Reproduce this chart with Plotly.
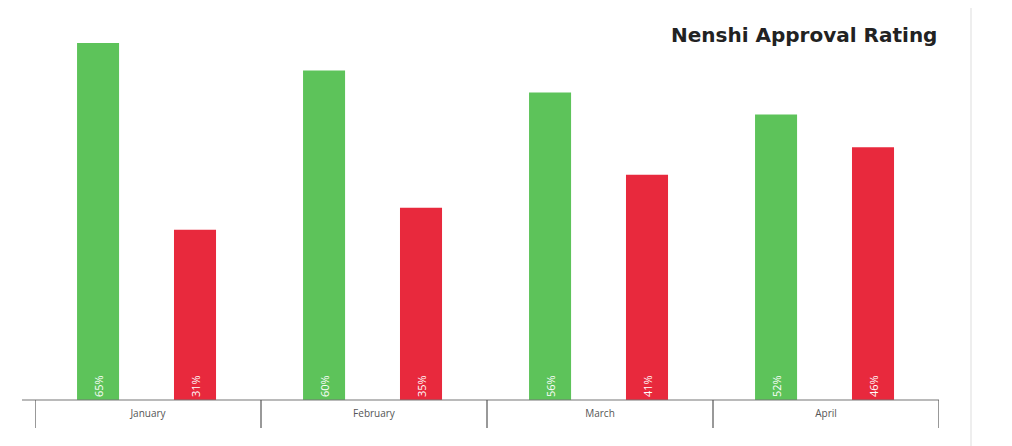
import plotly.graph_objects as go

months = ["January", "February", "March", "April"]
approve = [65, 60, 56, 52]
disapprove = [31, 35, 41, 46]

green = "#5dc35a"
red = "#e8293d"

fig = go.Figure()
for vals, col, off in [(approve, green, -0.314), (disapprove, red, 0.115)]:
    fig.add_trace(go.Bar(
        x=months, y=vals, marker=dict(color=col, line=dict(width=0)),
        width=0.186, offset=off,
        text=[f"{v}%" for v in vals], textposition="inside",
        insidetextanchor="start", textangle=-90,
        textfont=dict(color="white", size=11, family="Open Sans"),
        hoverinfo="skip",
    ))

box_h = 28 / 357
shapes = [dict(type="line", xref="paper", yref="paper", x0=-13 / 904, x1=1.0,
               y0=0, y1=0, line=dict(color="#777", width=1.2))]
for i in range(len(months) + 1):
    shapes.append(dict(type="line", xref="x", yref="paper", x0=i - 0.5, x1=i - 0.5,
                       y0=0, y1=-box_h, line=dict(color="#555", width=1.2)))
# light vertical stripe on the right of the page
shapes.append(dict(type="line", xref="paper", yref="paper", x0=(963 - 27) / 904,
                   x1=(963 - 27) / 904, y0=-1, y1=2, line=dict(color="#eeeeee", width=2)))

fig.update_layout(
    width=1012, height=446, barmode="overlay", showlegend=False,
    margin=dict(l=27, r=81, t=35, b=54),
    plot_bgcolor="white", paper_bgcolor="white",
    xaxis=dict(range=[-0.5, 3.5], showgrid=False, showline=False, ticks="",
               ticklabelstandoff=6,
               tickfont=dict(size=10, color="#555", family="Open Sans")),
    yaxis=dict(range=[0, 65], visible=False),
    shapes=shapes,
    annotations=[dict(text="<b>Nenshi Approval Rating</b>", xref="paper", yref="paper",
                      x=1.0, y=1.0, xanchor="right", yanchor="bottom", yshift=-6,
                      showarrow=False, font=dict(size=20, color="#222", family="DejaVu Sans"))],
)
fig.write_html("out.html")
